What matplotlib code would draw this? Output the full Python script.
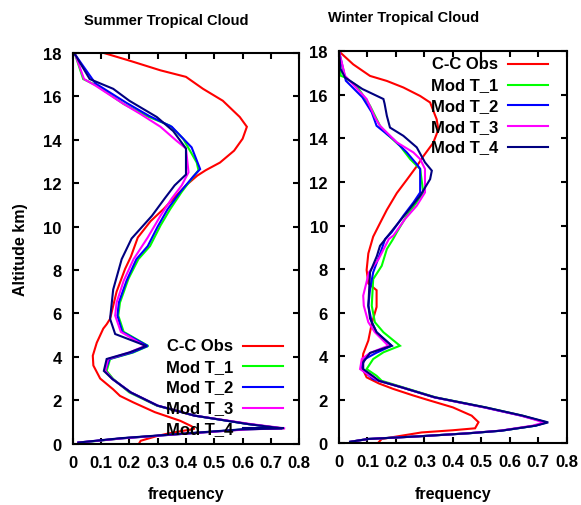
import matplotlib
matplotlib.use("Agg")
import matplotlib.pyplot as plt

plt.rcParams['font.family'] = ['Liberation Sans', 'DejaVu Sans']
plt.rcParams['font.weight'] = 'bold'

labels = ["C-C Obs", "Mod T_1", "Mod T_2", "Mod T_3", "Mod T_4"]
colors = ["#ff0000", "#00ff00", "#0000ff", "#ff00ff", "#000080"]

# Summer tropical cloud (frequency vs altitude in km)
s_obs_alt = [18, 17.65, 17.2, 16.9, 16.35, 15.8, 15.05, 14.6, 14.05, 13.5, 12.95, 12.6, 12.35, 11.9, 11.35,
             10.8, 10.25, 9.5, 8.6, 8.05, 7.0, 5.75, 5.5, 5.3, 4.65, 4.05, 3.6, 3.0, 2.5, 2.2,
             1.9, 1.45, 1.05, 0.8, 0.68, 0.5, 0.36, 0.13, 0.02]
s_obs = [0.11, 0.20, 0.31, 0.40, 0.46, 0.53, 0.59, 0.615, 0.60, 0.57, 0.52, 0.47, 0.44, 0.40, 0.36,
         0.32, 0.275, 0.23, 0.205, 0.185, 0.155, 0.132, 0.12, 0.108, 0.085, 0.071, 0.073, 0.097, 0.143, 0.167,
         0.214, 0.29, 0.38, 0.42, 0.43, 0.35, 0.30, 0.24, 0.235]

s_t1_alt = [18, 17.95, 16.8, 16.5, 15.65, 15.1, 14.65, 14.05, 12.95, 12.6, 12.2, 11.6, 10.8, 10.05, 9.1,
            8.5, 7.6, 6.5, 5.9, 5.15, 4.5, 4.2, 3.9, 3.35, 2.98, 2.36, 1.75, 1.29, 0.9, 0.7,
            0.66, 0.47, 0.25, 0.05]
s_t1 = [0.0, 0.008, 0.037, 0.085, 0.18, 0.26, 0.344, 0.39, 0.438, 0.444, 0.42, 0.385, 0.344, 0.31, 0.273,
        0.232, 0.197, 0.167, 0.161, 0.18, 0.267, 0.214, 0.132, 0.12, 0.143, 0.20, 0.297, 0.43, 0.62, 0.745,
        0.61, 0.41, 0.18, 0.03]

s_t2_alt = [18, 17.9, 16.6, 15.7, 15.1, 14.6, 13.65, 12.65, 12.3, 11.6, 10.8, 10.0, 9.1, 8.5, 7.5,
            6.5, 5.9, 5.15, 4.5, 4.2, 3.9, 3.35, 2.98, 2.36, 1.75, 1.29, 0.9, 0.7, 0.66, 0.47,
            0.25, 0.05]
s_t2 = [0.0, 0.01, 0.08, 0.19, 0.27, 0.35, 0.42, 0.45, 0.425, 0.38, 0.335, 0.30, 0.265, 0.225, 0.19,
        0.163, 0.158, 0.175, 0.265, 0.21, 0.13, 0.115, 0.14, 0.205, 0.30, 0.43, 0.62, 0.74, 0.61, 0.41,
        0.18, 0.02]

s_t3_alt = [18, 17.9, 16.8, 16.5, 15.65, 15.2, 14.6, 13.95, 13.6, 12.5, 11.9, 11.3, 10.5, 9.5, 8.5,
            7.5, 6.5, 5.9, 5.15, 4.5, 4.2, 3.9, 3.35, 2.98, 2.36, 1.75, 1.29, 0.9, 0.7, 0.66,
            0.47, 0.25, 0.05]
s_t3 = [0.0, 0.01, 0.04, 0.08, 0.18, 0.238, 0.31, 0.367, 0.40, 0.409, 0.385, 0.35, 0.31, 0.265, 0.215,
        0.18, 0.155, 0.15, 0.17, 0.255, 0.20, 0.125, 0.115, 0.14, 0.205, 0.30, 0.43, 0.63, 0.75, 0.62,
        0.41, 0.18, 0.02]

s_t4_alt = [18, 17.9, 16.8, 16.35, 15.8, 15.05, 14.4, 13.6, 12.4, 11.9, 11.3, 10.5, 9.45, 8.5, 7.1,
            5.75, 5.05, 4.5, 4.2, 3.9, 3.35, 2.98, 2.36, 1.75, 1.29, 0.9, 0.7, 0.66, 0.47, 0.25,
            0.05]
s_t4 = [0.0, 0.01, 0.06, 0.143, 0.20, 0.297, 0.355, 0.40, 0.40, 0.36, 0.325, 0.28, 0.208, 0.173, 0.143,
        0.132, 0.15, 0.26, 0.20, 0.12, 0.11, 0.14, 0.205, 0.30, 0.43, 0.62, 0.74, 0.60, 0.40, 0.17,
        0.02]

# Winter tropical cloud
w_obs_alt = [18, 17.4, 16.87, 16.64, 16.34, 15.95, 15.65, 14.88, 14.41, 13.8, 13.18, 12.72, 12.1, 11.49, 10.72,
             10.11, 9.49, 8.72, 7.96, 7.34, 7.03, 6.26, 5.5, 4.72, 4.11, 3.49, 3.03, 2.75, 2.5, 2.2,
             2.0, 1.65, 1.27, 0.97, 0.69, 0.6, 0.5, 0.2, 0.03]
w_obs = [0.0, 0.05, 0.109, 0.168, 0.226, 0.285, 0.32, 0.343, 0.349, 0.331, 0.296, 0.273, 0.238, 0.203, 0.168,
         0.144, 0.12, 0.103, 0.097, 0.103, 0.132, 0.132, 0.115, 0.103, 0.085, 0.08, 0.097, 0.14, 0.19, 0.26,
         0.31, 0.40, 0.466, 0.49, 0.478, 0.40, 0.29, 0.15, 0.138]

w_t1_alt = [18, 16.88, 16.8, 16.42, 15.5, 14.58, 14.2, 13.66, 13.05, 12.75, 12.6, 11.52, 11.07, 10.45, 9.69,
            9.38, 8.92, 8.15, 7.54, 6.32, 5.56, 5.1, 4.48, 4.18, 3.87, 3.41, 3.1, 2.87, 2.57, 2.11,
            1.65, 1.27, 0.96, 0.81, 0.58, 0.46, 0.32, 0.2, 0.07]
w_t1 = [0.0, 0.006, 0.021, 0.062, 0.109, 0.144, 0.168, 0.214, 0.25, 0.273, 0.285, 0.296, 0.273, 0.238, 0.203,
        0.19, 0.168, 0.15, 0.12, 0.115, 0.126, 0.156, 0.214, 0.156, 0.12, 0.097, 0.132, 0.15, 0.225, 0.34,
        0.515, 0.645, 0.725, 0.69, 0.57, 0.454, 0.279, 0.103, 0.039]

w_t2_alt = [18, 16.65, 15.89, 15.2, 14.58, 13.97, 13.36, 12.82, 12.6, 11.52, 11.07, 10.45, 9.69, 9.38, 8.92,
            7.85, 7.08, 6.32, 5.56, 5.1, 4.48, 4.15, 3.87, 3.56, 3.33, 2.95, 2.57, 2.11, 1.65, 1.27,
            0.96, 0.81, 0.58, 0.46, 0.32, 0.2, 0.07]
w_t2 = [0.0, 0.024, 0.082, 0.115, 0.132, 0.19, 0.238, 0.273, 0.285, 0.285, 0.262, 0.226, 0.185, 0.162, 0.15,
        0.12, 0.109, 0.103, 0.115, 0.132, 0.185, 0.13, 0.091, 0.08, 0.085, 0.12, 0.22, 0.335, 0.51, 0.64,
        0.73, 0.69, 0.57, 0.454, 0.279, 0.103, 0.039]

w_t3_alt = [18, 16.88, 15.81, 14.97, 14.58, 13.82, 13.36, 13.05, 12.6, 11.52, 10.91, 10.3, 9.54, 9.38, 8.46,
            7.85, 6.78, 6.32, 5.56, 5.1, 4.48, 4.15, 3.87, 3.41, 3.1, 2.87, 2.57, 2.11, 1.65, 1.27,
            0.96, 0.81, 0.58, 0.46, 0.32, 0.2, 0.07]
w_t3 = [0.0, 0.021, 0.097, 0.126, 0.144, 0.203, 0.261, 0.285, 0.302, 0.302, 0.273, 0.232, 0.191, 0.175, 0.139,
        0.105, 0.085, 0.087, 0.103, 0.126, 0.173, 0.109, 0.08, 0.074, 0.109, 0.14, 0.22, 0.335, 0.51, 0.64,
        0.72, 0.68, 0.565, 0.45, 0.279, 0.103, 0.039]

w_t4_alt = [18, 17.2, 16.8, 16.27, 15.81, 15.6, 15.04, 14.5, 14.12, 13.59, 12.9, 12.52, 12.13, 11.37, 10.6,
            9.84, 9.07, 8.6, 7.85, 6.32, 5.73, 5.1, 4.48, 4.15, 3.72, 3.41, 3.03, 2.87, 2.57, 2.11,
            1.65, 1.27, 0.96, 0.81, 0.58, 0.46, 0.32, 0.2, 0.07]
w_t4 = [0.0, 0.005, 0.021, 0.082, 0.156, 0.16, 0.168, 0.179, 0.226, 0.273, 0.302, 0.326, 0.32, 0.285, 0.238,
        0.191, 0.144, 0.133, 0.109, 0.103, 0.109, 0.132, 0.185, 0.109, 0.085, 0.085, 0.125, 0.14, 0.22, 0.337,
        0.515, 0.645, 0.735, 0.69, 0.57, 0.454, 0.279, 0.103, 0.039]

xticks = [0, 0.1, 0.2, 0.3, 0.4, 0.5, 0.6, 0.7, 0.8]
xtick_labels = ["0", "0.1", "0.2", "0.3", "0.4", "0.5", "0.6", "0.7", "0.8"]
yticks = [0, 2, 4, 6, 8, 10, 12, 14, 16, 18]


def draw_panel(ax, series, key_x, key_y):
    for (fx, alt), col in zip(series, colors):
        ax.plot(fx, alt, color=col, lw=1.5, solid_joinstyle='miter')
    # gnuplot-like key: label on the left, line sample on the right
    for i, (lab, col) in enumerate(zip(labels, colors)):
        yy = key_y - i * 0.053
        ax.text(key_x, yy, lab, transform=ax.transAxes, ha='right', va='center',
                fontsize=12, fontweight='bold')
        ax.plot([key_x + 0.045, key_x + 0.22], [yy, yy], transform=ax.transAxes,
                color=col, lw=1.5, clip_on=False)
    ax.set_xlim(0, 0.8)
    ax.set_ylim(0, 18)
    ax.set_xticks(xticks)
    ax.set_xticklabels(xtick_labels)
    ax.set_yticks(yticks)
    ax.tick_params(direction='in', length=4, width=1.5, top=True, right=True,
                   labelsize=12, pad=8)
    for sp in ax.spines.values():
        sp.set_linewidth(1.5)
    ax.set_xlabel("frequency", fontsize=11.5, fontweight='bold', labelpad=12)


fig = plt.figure(figsize=(5.81, 5.06), dpi=100)
ax1 = fig.add_axes([0.1251, 0.1213, 0.390, 0.772])
ax2 = fig.add_axes([0.5835, 0.1219, 0.392, 0.7747])

draw_panel(ax1, [(s_obs, s_obs_alt), (s_t1, s_t1_alt), (s_t2, s_t2_alt), (s_t3, s_t3_alt), (s_t4, s_t4_alt)],
           0.707, 0.251)
draw_panel(ax2, [(w_obs, w_obs_alt), (w_t1, w_t1_alt), (w_t2, w_t2_alt), (w_t3, w_t3_alt), (w_t4, w_t4_alt)],
           0.698, 0.968)

ax1.set_ylabel("Altitude km)", fontsize=11.5, fontweight='bold', labelpad=11)

fig.text(166 / 581, 1 - 21 / 506, "Summer Tropical Cloud", ha='center', va='center',
         fontsize=10.5, fontweight='bold')
fig.text(404 / 581, 1 - 18 / 506, "Winter Tropical Cloud", ha='center', va='center',
         fontsize=10.5, fontweight='bold')

fig.savefig("out.png", dpi=100)
